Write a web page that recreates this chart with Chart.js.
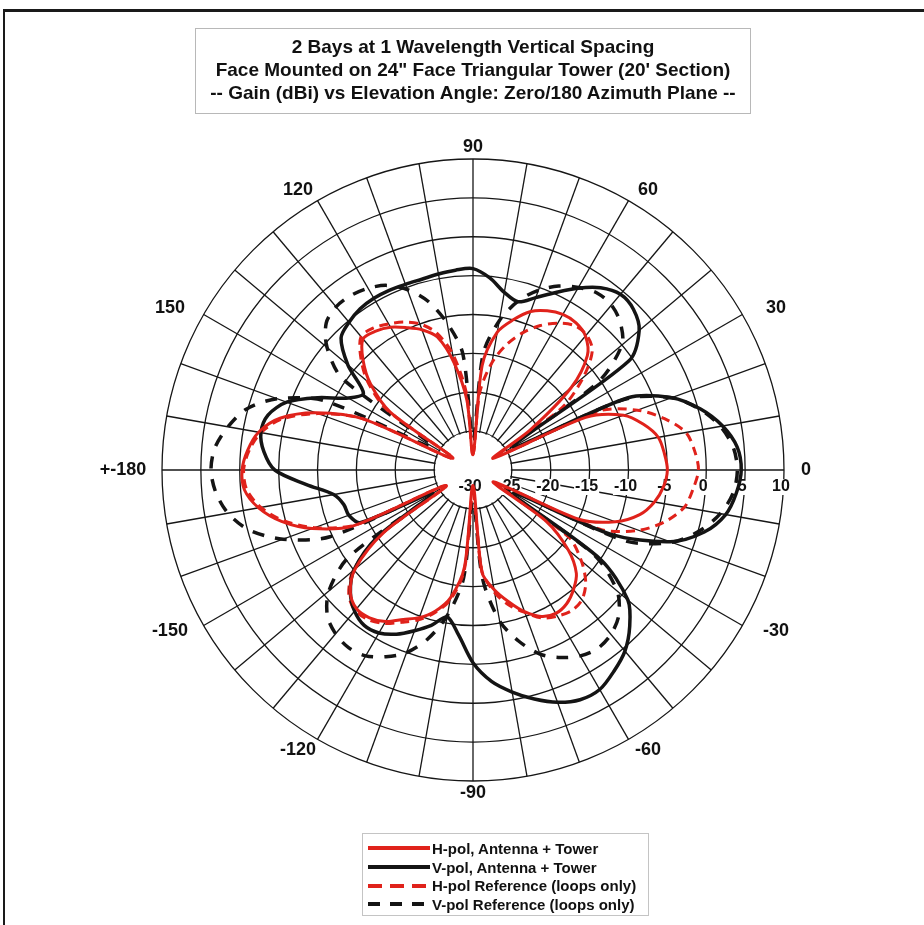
<!DOCTYPE html>
<html>
<head>
<meta charset="utf-8">
<script src="https://cdn.jsdelivr.net/npm/chart.js@4.4.1/dist/chart.umd.min.js"></script>
<style>
  html, body { margin: 0; padding: 0; background: #fff; }
  body { width: 924px; height: 925px; position: relative; overflow: hidden; font-family: "Liberation Sans", Arial, sans-serif; color: #111; }
  #frameTop { position: absolute; left: 3px; top: 9px; width: 921px; border-top: 3px solid #1a1a1a; }
  #frameLeft { position: absolute; left: 3px; top: 9px; height: 916px; border-left: 2px solid #1a1a1a; }
  #wrap { position: absolute; left: 0; top: 0; width: 924px; height: 925px; }
  #title { position: absolute; left: 195px; top: 28px; width: 556px; height: 86px; box-sizing: border-box;
           border: 1px solid #b8b8b8; padding-top: 6px; text-align: center; font-weight: bold; font-size: 19px; line-height: 23px; }
  #legend { position: absolute; left: 362px; top: 833px; width: 287px; height: 83px; box-sizing: border-box;
            border: 1px solid #c4c4c4; padding: 5px 0 0 5px; font-weight: bold; font-size: 15px; }
  .row { height: 18.7px; display: flex; align-items: center; white-space: nowrap; }
  .sample { width: 62px; height: 4px; margin-right: 2px; flex: none; }
</style>
</head>
<body>
<div id="frameTop"></div>
<div id="frameLeft"></div>
<div id="wrap"><canvas id="polar"></canvas></div>
<div id="title">
  2 Bays at 1 Wavelength Vertical Spacing<br>
  Face Mounted on 24" Face Triangular Tower (20' Section)<br>
  -- Gain (dBi) vs Elevation Angle: Zero/180 Azimuth Plane --
</div>
<div id="legend"></div>

<script>
// elevation angles, clockwise from the top of the plot (90 up, 0 right, -90 down)
const angles = [90, 85, 80, 75, 70, 65, 60, 55, 50, 45, 40, 35,
  30, 25, 20, 15, 10, 5, 0, -5, -10, -15, -20, -25,
  -30, -35, -40, -45, -50, -55, -60, -65, -70, -75, -80, -85,
  -90, -95, -100, -105, -110, -115, -120, -125, -130, -135, -140, -145,
  -150, -155, -160, -165, -170, -175, 180, 175, 170, 165, 160, 155,
  150, 145, 140, 135, 130, 125, 120, 115, 110, 105, 100, 95];

// gain in dBi at each angle above
const hPolTower = [-28, -16.5, -12, -10, -8.3, -7.4, -6.9, -6.9, -7.5, -9.2, -13.5, -21,
  -27, -14, -9.4, -7.3, -5.8, -5.3, -5, -5.4, -6.3, -7.8, -10.5, -15,
  -27, -18.5, -14, -11.2, -9.9, -9, -8.7, -9.2, -10.6, -12.5, -14.4, -16.8,
  -28, -17.5, -13.3, -11.2, -9.8, -8.8, -7.5, -6.8, -6.7, -7.7, -10.2, -16,
  -26, -13, -8, -4.5, -2, -0.5, -0.3, -0.9, -2, -4.3, -8.5, -14.5,
  -27, -17, -12.8, -10, -8, -8.2, -8.8, -9.8, -10.8, -12.3, -16, -21];

const vPolTower = [-4.1, -5.2, -6.8, -7.6, -6.4, -4.8, -3, -1.4, -0.5, -0.8, -2.1, -5.5,
  -24, -8, -2.8, 0.3, 2.6, 4.1, 4.5, 4, 3, 0.8, -3, -10.5,
  -24, -10, -4, -1.5, 0.4, 1.6, 2.6, 2.6, 1.8, 0.5, -1, -2.7,
  -5.2, -8.7, -10.8, -9.3, -8, -6.7, -5.8, -5.6, -6.3, -7.7, -10, -15,
  -24, -14, -13, -12.8, -11.8, -8.5, -4.5, -3, -2.3, -2.7, -4.5, -8,
  -11.5, -12.8, -9, -6, -5.2, -4.7, -4.5, -4.5, -4.6, -4.6, -4.4, -4.2];

const hPolRef = [-28, -20, -16, -13.3, -11.2, -9.5, -8.2, -7.3, -7.3, -8.3, -11.5, -16,
  -26, -12, -7.5, -4.5, -2.2, -1.4, -1, -1.6, -2.4, -4.4, -7.3, -12,
  -26, -15, -11.8, -9.5, -8.2, -7.9, -8.3, -9, -10.5, -12, -14, -17,
  -27, -17, -13, -11, -9.5, -8.4, -7.2, -6.5, -6.4, -7.4, -9.9, -15.5,
  -26, -13.3, -8.3, -4.8, -2.3, -0.8, -0.5, -1.1, -2.3, -4.6, -8.8, -14.5,
  -27, -16.5, -12.3, -9.6, -7.6, -7.7, -8.3, -9, -10, -11.7, -14.8, -20];

const vPolRef = [-26, -15, -10.5, -7.5, -5.4, -3.9, -2.9, -2.2, -2.3, -3.2, -5, -10.5,
  -25, -8.5, -2.8, 0.2, 2.3, 3.6, 4, 3.6, 2.3, 0.2, -2.8, -8.5,
  -25, -11, -5.8, -3.5, -2.4, -2, -2.4, -3.4, -4.8, -7.2, -10.3, -16,
  -26, -16, -11, -7.5, -5, -3.5, -2.4, -2.1, -2.5, -3.5, -5.8, -10.5,
  -24, -9.7, -4, -0.2, 2, 3.2, 3.7, 3.3, 2, 0.2, -3.2, -9,
  -24, -9.5, -5.5, -3.3, -2.6, -2.6, -3, -3.8, -5.3, -7.5, -10.8, -15];

const seriesNames = ['H-pol, Antenna + Tower', 'V-pol, Antenna + Tower',
  'H-pol Reference (loops only)', 'V-pol Reference (loops only)'];

const gainMin = -30;
const gainMax = 10;
const gainStep = 5;

const RED = '#e0221b';
const BLACK = '#141414';
const GRID = '#161616';

const seriesStyle = [
  { color: RED, dash: [], width: 3 },
  { color: BLACK, dash: [], width: 3.5 },
  { color: RED, dash: [9, 6], width: 3 },
  { color: BLACK, dash: [12, 11], width: 3.5 }
];
const seriesData = [hPolTower, vPolTower, hPolRef, vPolRef];

// text on the grid: hub, gain ticks along the 0 spoke, angle labels every 30
const polarText = {
  id: 'polarText',
  beforeDatasetsDraw(chart) {
    const r = chart.scales.r;
    const ctx = chart.ctx;
    const R = r.drawingArea;
    ctx.save();
    ctx.fillStyle = '#fff';
    ctx.beginPath();
    ctx.arc(r.xCenter, r.yCenter, r.getDistanceFromCenterForValue(gainMin + gainStep) - 1, 0, Math.PI * 2);
    ctx.fill();

    ctx.font = 'bold 16px "Liberation Sans", Arial, sans-serif';
    ctx.textAlign = 'center';
    ctx.textBaseline = 'middle';
    r.ticks.forEach(t => {
      const x = r.xCenter + r.getDistanceFromCenterForValue(t.value) - 3;
      const y = r.yCenter + 17;
      const w = ctx.measureText(t.label).width;
      ctx.fillStyle = '#fff';
      ctx.fillRect(x - w / 2 - 1, y - 8, w + 2, 16);
      ctx.fillStyle = '#111';
      ctx.fillText(t.label, x, y);
    });

    ctx.font = 'bold 18px "Liberation Sans", Arial, sans-serif';
    angles.forEach((a, i) => {
      if (a % 30 !== 0) return;
      const p = r.getPointPosition(i, R);
      const ux = (p.x - r.xCenter) / R;
      const uy = (p.y - r.yCenter) / R;
      const x = r.xCenter + ux * (R + (a === 0 ? 22 : 39));
      const y = r.yCenter + uy * (R + 12);
      ctx.fillText(a === 180 ? '+-180' : String(a), x, y);
    });
    ctx.restore();
  }
};

new Chart(document.getElementById('polar'), {
  type: 'radar',
  data: {
    labels: angles,
    datasets: seriesNames.map((name, i) => ({
      label: name,
      data: seriesData[i],
      borderColor: seriesStyle[i].color,
      borderWidth: seriesStyle[i].width,
      borderDash: seriesStyle[i].dash,
      backgroundColor: 'transparent',
      fill: false,
      pointRadius: 0,
      tension: 0.3
    }))
  },
  options: {
    responsive: true,
    maintainAspectRatio: false,
    animation: false,
    layout: { padding: { left: 162, right: 140, top: 159, bottom: 144 } },
    plugins: { legend: { display: false }, tooltip: { enabled: false } },
    scales: {
      r: {
        min: gainMin,
        max: gainMax,
        startAngle: 0,
        ticks: { display: false, stepSize: gainStep },
        grid: { circular: true, color: GRID, lineWidth: 1.3 },
        angleLines: {
          lineWidth: 1.3,
          color: c => (angles[c.index] % 10 === 0 ? GRID : 'transparent')
        },
        pointLabels: { display: false }
      }
    }
  },
  plugins: [polarText]
});

// legend
const legend = document.getElementById('legend');
seriesNames.forEach((name, i) => {
  const s = seriesStyle[i];
  const row = document.createElement('div');
  row.className = 'row';
  const sample = document.createElement('span');
  sample.className = 'sample';
  if (s.dash.length) {
    const on = i === 2 ? 14 : 12, off = i === 2 ? 8 : 10;
    sample.style.background = `repeating-linear-gradient(90deg, ${s.color} 0 ${on}px, transparent ${on}px ${on + off}px)`;
  } else {
    sample.style.background = s.color;
  }
  row.appendChild(sample);
  row.appendChild(document.createTextNode(name));
  legend.appendChild(row);
});
</script>
</body>
</html>
